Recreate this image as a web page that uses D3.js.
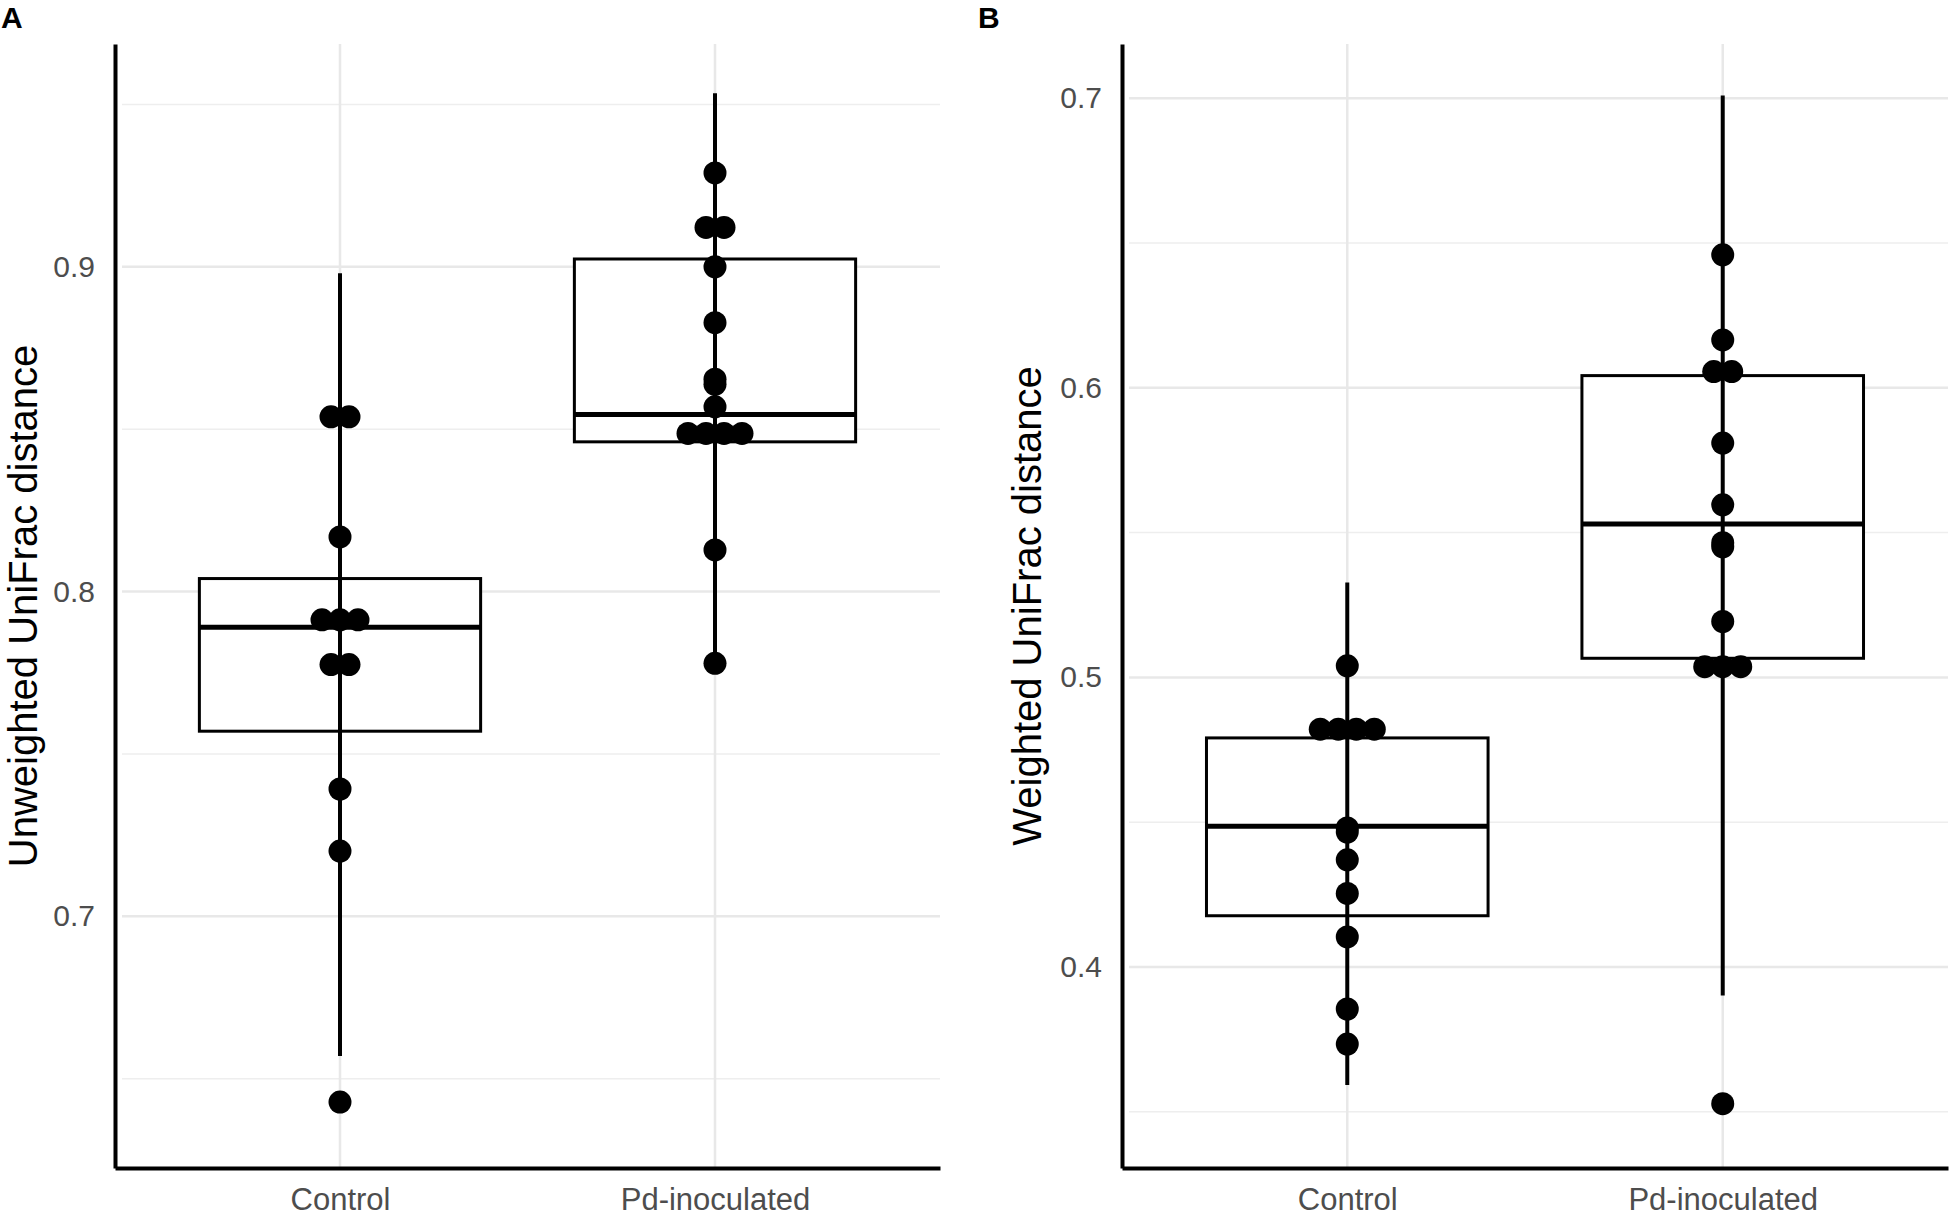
<!DOCTYPE html>
<html>
<head>
<meta charset="utf-8">
<script src="https://cdn.jsdelivr.net/npm/d3@7"></script>
<style>
  body { margin: 0; background: #fff; }
  svg { display: block; font-family: "Liberation Sans", Arial, sans-serif; }
</style>
</head>
<body>
<div id="chart"></div>
<script>
// groups on x
const groups = ["Control", "Pd-inoculated"];

// panel A: unweighted UniFrac
const unweightedControl = [0.8538, 0.8538, 0.8168, 0.7913, 0.7913, 0.7913, 0.7775, 0.7775, 0.7392, 0.7201, 0.6428];
const unweightedPd = [0.9289, 0.9121, 0.9121, 0.9, 0.8828, 0.8654, 0.8638, 0.8569, 0.8487, 0.8487, 0.8487, 0.8487, 0.8128, 0.7779];
// [lower whisker, q1, median, q3, upper whisker]
const unweightedBox = [[0.657, 0.757, 0.789, 0.804, 0.898], [0.778, 0.8461, 0.8545, 0.9024, 0.9534]];
const unweightedMajor = [0.7, 0.8, 0.9];
const unweightedMinor = [0.65, 0.75, 0.85, 0.95];

// panel B: weighted UniFrac
const weightedControl = [0.504, 0.4821, 0.4821, 0.4821, 0.4821, 0.4480, 0.4466, 0.437, 0.4254, 0.4104, 0.3855, 0.3734];
const weightedPd = [0.6459, 0.6165, 0.6056, 0.6056, 0.5809, 0.5596, 0.5465, 0.5451, 0.5193, 0.5037, 0.5037, 0.5037, 0.3528];
const weightedBox = [[0.3593, 0.4177, 0.4486, 0.4791, 0.5328], [0.3902, 0.5066, 0.553, 0.6042, 0.7009]];
const weightedMajor = [0.4, 0.5, 0.6, 0.7];
const weightedMinor = [0.35, 0.45, 0.55, 0.65];

const W = 1950, H = 1217;
const plotTop = 44, plotBottom = 1168;

const svg = d3.select("#chart").append("svg")
      .attr("width", W)
      .attr("height", H);

function panel(opt) {
      const g = svg.append("g");
      const x = d3.scalePoint().domain(groups).range([opt.left, opt.right]).padding(0.6);
      const y = d3.scaleLinear().domain(opt.domain).range([plotBottom, plotTop]);

      // grid
      g.selectAll(".minor").data(opt.minor).enter().append("line")
            .attr("x1", opt.left + 7).attr("x2", opt.right)
            .attr("y1", d => y(d)).attr("y2", d => y(d))
            .style("stroke", "#eeeeee").style("stroke-width", 1.5);
      g.selectAll(".major").data(opt.major).enter().append("line")
            .attr("x1", opt.left + 7).attr("x2", opt.right)
            .attr("y1", d => y(d)).attr("y2", d => y(d))
            .style("stroke", "#e8e8e8").style("stroke-width", 2.5);
      g.selectAll(".vgrid").data(groups).enter().append("line")
            .attr("x1", d => x(d)).attr("x2", d => x(d))
            .attr("y1", plotTop).attr("y2", plotBottom)
            .style("stroke", "#e8e8e8").style("stroke-width", 2.5);

      // boxes
      const bw = x.step() * 0.75;
      const boxes = g.selectAll(".box").data(opt.box).enter().append("g");
      boxes.append("rect")
            .attr("x", (d, i) => x(groups[i]) - bw / 2)
            .attr("width", bw)
            .attr("y", d => y(d[3]))
            .attr("height", d => y(d[1]) - y(d[3]))
            .style("fill", "white").style("stroke", "black").style("stroke-width", 3);
      boxes.append("line")
            .attr("x1", (d, i) => x(groups[i]) - bw / 2).attr("x2", (d, i) => x(groups[i]) + bw / 2)
            .attr("y1", d => y(d[2])).attr("y2", d => y(d[2]))
            .style("stroke", "black").style("stroke-width", 5);
      boxes.append("line")
            .attr("x1", (d, i) => x(groups[i])).attr("x2", (d, i) => x(groups[i]))
            .attr("y1", d => y(d[0])).attr("y2", d => y(d[4]))
            .style("stroke", "black").style("stroke-width", 4);

      // dots, equal values stacked side by side
      opt.points.forEach((vals, gi) => {
            const counts = d3.rollup(vals, v => v.length, d => d);
            const seen = new Map();
            const pts = vals.map(v => {
                  const k = counts.get(v);
                  const j = seen.get(v) || 0;
                  seen.set(v, j + 1);
                  return { v: v, dx: (j - (k - 1) / 2) * 18 };
            });
            g.selectAll(".dot" + gi).data(pts).enter().append("circle")
                  .attr("cx", d => x(groups[gi]) + d.dx)
                  .attr("cy", d => y(d.v))
                  .attr("r", 11.5)
                  .style("fill", "black");
      });

      // axes
      const ya = g.append("g").attr("transform", `translate(${opt.left},0)`)
            .call(d3.axisLeft(y).tickValues(opt.major).tickSize(0).tickPadding(20).tickFormat(d3.format(".1f")));
      ya.select(".domain").style("stroke", "black").style("stroke-width", 4);
      ya.selectAll("text").style("font-size", "30px").style("fill", "#4d4d4d").attr("font-family", null);

      const xa = g.append("g").attr("transform", `translate(0,${plotBottom})`)
            .call(d3.axisBottom(x).tickSize(0).tickPadding(10));
      xa.select(".domain").style("stroke", "black").style("stroke-width", 4);
      xa.selectAll("text").style("font-size", "31px").style("fill", "#4d4d4d").attr("font-family", null)
            .attr("dy", "0.71em").attr("y", 20);

      // titles
      g.append("text")
            .attr("transform", `translate(${opt.titleX},${(plotTop + plotBottom) / 2}) rotate(-90)`)
            .attr("text-anchor", "middle")
            .style("font-size", "40px")
            .text(opt.title);
      g.append("text")
            .attr("x", opt.tagX).attr("y", 28)
            .style("font-size", "30px").style("font-weight", "bold")
            .text(opt.tag);
}

panel({
      left: 115, right: 940,
      domain: [0.6225, 0.9686],
      major: unweightedMajor, minor: unweightedMinor,
      box: unweightedBox,
      points: [unweightedControl, unweightedPd],
      title: "Unweighted UniFrac distance", titleX: 37,
      tag: "A", tagX: 1
});

panel({
      left: 1122, right: 1948,
      domain: [0.3306, 0.7187],
      major: weightedMajor, minor: weightedMinor,
      box: weightedBox,
      points: [weightedControl, weightedPd],
      title: "Weighted UniFrac distance", titleX: 1041,
      tag: "B", tagX: 978
});
</script>
</body>
</html>
